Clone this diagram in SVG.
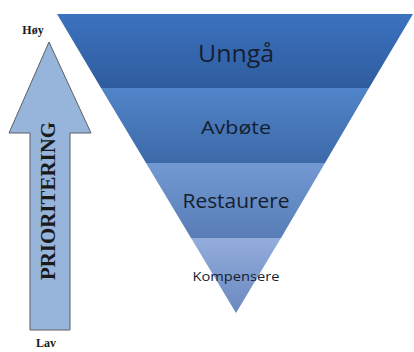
<svg xmlns="http://www.w3.org/2000/svg" width="414" height="352" viewBox="0 0 414 352">
<defs>
<linearGradient id="g1" x1="0" y1="0" x2="0" y2="1"><stop offset="0" stop-color="#3c72bf"/><stop offset="1" stop-color="#2f5c9e"/></linearGradient>
<linearGradient id="g2" x1="0" y1="0" x2="0" y2="1"><stop offset="0" stop-color="#5185c9"/><stop offset="1" stop-color="#3d69a8"/></linearGradient>
<linearGradient id="g3" x1="0" y1="0" x2="0" y2="1"><stop offset="0" stop-color="#7399d3"/><stop offset="1" stop-color="#587db6"/></linearGradient>
<linearGradient id="g4" x1="0" y1="0" x2="0" y2="1"><stop offset="0" stop-color="#93addc"/><stop offset="1" stop-color="#6a89bf"/></linearGradient>
</defs>
<style>
.lbl{font-family:"Open Sans","Noto Sans","DejaVu Sans",sans-serif;fill:#141e30;text-anchor:middle}
.ser{font-family:"Liberation Serif","Times New Roman",serif;font-weight:bold;fill:#1a1a1a;text-anchor:middle}
</style>
<rect width="414" height="352" fill="#ffffff"/>
<g id="arrow">
<path d="M49 42 L91 133 L70 133 L70 330 L30 330 L30 133 L9 133 Z" fill="#97b4db" stroke="#5a5f66" stroke-width="1"/>
<text class="ser" x="0" y="0" font-size="20" transform="translate(55 201) rotate(-90)" textLength="158" lengthAdjust="spacingAndGlyphs">PRIORITERING</text>
</g>
<g id="hoy"><text class="ser" x="33" y="34" font-size="12">Høy</text></g>
<g id="lav"><text class="ser" x="46" y="347" font-size="12">Lav</text></g>
<g id="band1">
<polygon points="57,14 413,14 369,88 101,88" fill="url(#g1)"/>
<text class="lbl" x="236" y="62" font-size="24" textLength="76" lengthAdjust="spacingAndGlyphs">Unngå</text>
</g>
<g id="band2">
<polygon points="101,88 369,88 325,163 146,163" fill="url(#g2)"/>
<text class="lbl" x="236" y="134" font-size="19" textLength="70" lengthAdjust="spacingAndGlyphs">Avbøte</text>
</g>
<g id="band3">
<polygon points="146,163 325,163 281,238 191,238" fill="url(#g3)"/>
<text class="lbl" x="236" y="208" font-size="20" textLength="107" lengthAdjust="spacingAndGlyphs">Restaurere</text>
</g>
<g id="band4">
<polygon points="191,238 281,238 236,313" fill="url(#g4)"/>
<text class="lbl" x="236" y="281" font-size="13" textLength="87" lengthAdjust="spacingAndGlyphs">Kompensere</text>
</g>
<g id="connectors"/>
</svg>
